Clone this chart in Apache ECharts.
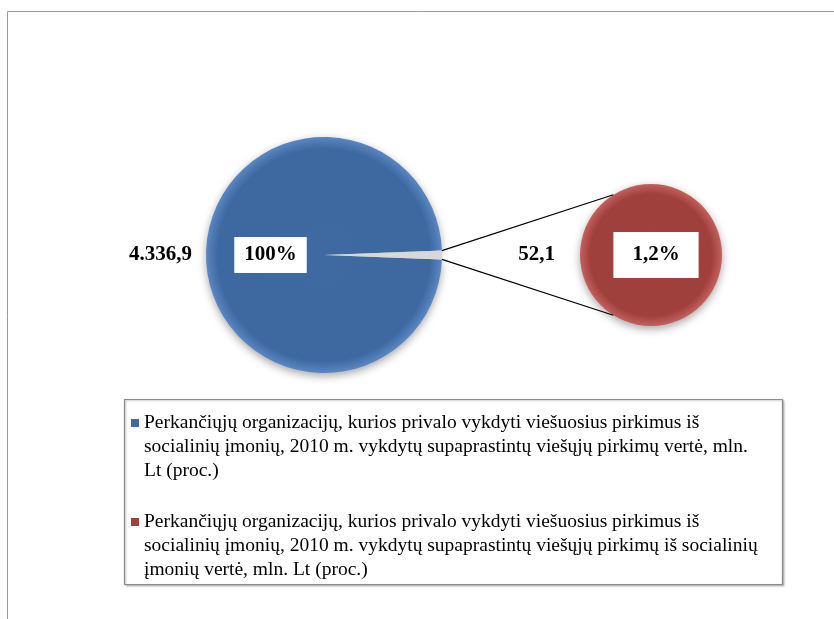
<!DOCTYPE html>
<html>
<head>
<meta charset="utf-8">
<script src="https://cdn.jsdelivr.net/npm/echarts@6/dist/echarts.min.js"></script>
<style>html,body{margin:0;padding:0;background:#fff;}#c{width:834px;height:619px;}</style>
</head>
<body>
<div id="c"></div>
<script>
const categories = [
  'Perkančiųjų organizacijų, kurios privalo vykdyti viešuosius pirkimus iš\nsocialinių įmonių, 2010 m. vykdytų supaprastintų viešųjų pirkimų vertė, mln.\nLt (proc.)',
  'Perkančiųjų organizacijų, kurios privalo vykdyti viešuosius pirkimus iš\nsocialinių įmonių, 2010 m. vykdytų supaprastintų viešųjų pirkimų iš socialinių\nįmonių vertė, mln. Lt (proc.)'
];
const values = [4336.9, 52.1];
const valueLabels = ['4.336,9', '52,1'];
const percentLabels = ['100%', '1,2%'];

const BLUE = '#3e69a1', RED = '#a1403d', GREY = '#d8d8d8';
const FONT = 'Liberation Serif';
const LEGEND_FS = 19.5;
const bigCenter = [324, 255], bigR = 118;
const smallCenter = [651, 255], smallR = 71;
const total = values[0] + values[1];
const bigStart = -360 * values[1] / total / 2;

// pad with empty lines on top so the legend icon sits beside the first text line
function legendText(name) {
  const n = name.split('\n').length;
  return '\n'.repeat(n - 1) + name;
}

const chart = echarts.init(document.getElementById('c'), null, {renderer: 'canvas'});

const boxLabel = (pad) => ({
  fontFamily: FONT, fontWeight: 'bold', fontSize: 21, color: '#000',
  backgroundColor: '#fff', padding: pad
});
const plainLabel = {fontFamily: FONT, fontWeight: 'bold', fontSize: 21, color: '#000'};
const clear = {color: 'rgba(0,0,0,0)'};

const blueFill = {type: 'radial', x: 0.5, y: 0.5, r: 0.5, colorStops: [
  {offset: 0, color: '#3e69a1'}, {offset: 0.9, color: '#3d68a0'}, {offset: 1, color: '#5a87c2'}]};
const redFill = {type: 'radial', x: 0.5, y: 0.5, r: 0.5, colorStops: [
  {offset: 0, color: '#a1403d'}, {offset: 0.86, color: '#a0403c'}, {offset: 1, color: '#c4605b'}]};
const shadow = {shadowBlur: 8, shadowColor: 'rgba(0,0,0,0.35)', shadowOffsetY: 3};

const option = {
  backgroundColor: '#fff',
  animation: false,
  legend: {
    orient: 'vertical', left: 131, top: 363, padding: 0, itemGap: -21,
    itemWidth: 8, itemHeight: 8, icon: 'rect',
    formatter: legendText,
    data: [
      {name: categories[0], itemStyle: {color: BLUE}},
      {name: categories[1], itemStyle: {color: RED}}
    ],
    textStyle: {fontFamily: FONT, fontSize: LEGEND_FS, color: '#000', lineHeight: 24}
  },
  series: [
    // primary pie (visual)
    {
      type: 'pie', center: bigCenter, radius: bigR, startAngle: bigStart, clockwise: true,
      avoidLabelOverlap: false, silent: true,
      label: {show: false}, labelLine: {show: false},
      data: [
        {name: categories[0], value: values[0], itemStyle: Object.assign({color: blueFill}, shadow)},
        {name: categories[1], value: values[1], itemStyle: {color: GREY}}
      ]
    },
    // primary pie: value label outside
    {
      type: 'pie', center: bigCenter, radius: bigR, startAngle: bigStart, clockwise: true,
      avoidLabelOverlap: false, silent: true, legendHoverLink: false, itemStyle: clear,
      labelLine: {show: false, length: 4, length2: 5},
      label: Object.assign({show: false, position: 'outside', distanceToLabelLine: 5}, plainLabel),
      data: [
        {name: categories[0], value: values[0], label: {show: true, formatter: valueLabels[0]}},
        {name: categories[1], value: values[1]}
      ]
    },
    // primary pie: percent label inside
    {
      type: 'pie', center: bigCenter, radius: 101, startAngle: bigStart, clockwise: true,
      avoidLabelOverlap: false, silent: true, legendHoverLink: false, itemStyle: clear,
      labelLine: {show: false},
      label: Object.assign({show: false, position: 'inside'}, boxLabel([8, 10, 7, 10])),
      data: [
        {name: categories[0], value: values[0], label: {show: true, formatter: percentLabels[0]}},
        {name: categories[1], value: values[1]}
      ]
    },
    // secondary pie (visual)
    {
      type: 'pie', center: smallCenter, radius: smallR, startAngle: 0,
      avoidLabelOverlap: false, silent: true,
      label: {show: false}, labelLine: {show: false},
      data: [{name: categories[1], value: values[1], itemStyle: Object.assign({color: redFill}, shadow)}]
    },
    // secondary pie: percent label
    {
      type: 'pie', center: smallCenter, radius: 4, startAngle: 180,
      avoidLabelOverlap: false, silent: true, legendHoverLink: false, itemStyle: clear,
      labelLine: {show: false},
      label: Object.assign({show: true, position: 'inside', formatter: percentLabels[1]}, boxLabel([13, 19, 12, 19])),
      data: [{name: categories[1], value: values[1]}]
    },
    // secondary pie: value label outside
    {
      type: 'pie', center: smallCenter, radius: smallR, startAngle: 0,
      avoidLabelOverlap: false, silent: true, legendHoverLink: false, itemStyle: clear,
      labelLine: {show: false, length: 10, length2: 10},
      label: Object.assign({show: true, position: 'outside', distanceToLabelLine: 5, formatter: valueLabels[1]}, plainLabel),
      data: [{name: categories[1], value: values[1]}]
    }
  ]
};
chart.setOption(option);

// frame, legend box and connector lines from the "other" slice to the secondary pie
function decorations() {
  let lay = null;
  try { lay = chart.getModel().getSeriesByIndex(0).getData().getItemLayout(1); } catch (e) {}
  let cx = bigCenter[0], cy = bigCenter[1], r = bigR, a0, a1;
  if (lay) { cx = lay.cx; cy = lay.cy; r = lay.r; a0 = lay.startAngle; a1 = lay.endAngle; }
  else { a0 = bigStart * Math.PI / 180; a1 = -bigStart * Math.PI / 180; }
  const p0 = [cx + r * Math.cos(a0), cy + r * Math.sin(a0)];
  const p1 = [cx + r * Math.cos(a1), cy + r * Math.sin(a1)];
  const top = p0[1] < p1[1] ? p0 : p1, bot = p0[1] < p1[1] ? p1 : p0;
  const t = 122 * Math.PI / 180;
  const q0 = [smallCenter[0] + smallR * Math.cos(t), smallCenter[1] - smallR * Math.sin(t)];
  const q1 = [smallCenter[0] + smallR * Math.cos(t), smallCenter[1] + smallR * Math.sin(t)];
  return [
    {type: 'rect', z: -10, silent: true, shape: {x: 7.5, y: 11.5, width: 900, height: 700},
      style: {fill: 'none', stroke: '#9b9b9b', lineWidth: 1}},
    {type: 'rect', z: -9, silent: true, shape: {x: 124.5, y: 399.5, width: 658, height: 185},
      style: {fill: '#fff', stroke: '#8c8c8c', lineWidth: 1.2, shadowBlur: 2, shadowColor: 'rgba(0,0,0,0.25)', shadowOffsetX: 1, shadowOffsetY: 1}},
    {type: 'line', z: 10, silent: true, shape: {x1: top[0], y1: top[1], x2: q0[0], y2: q0[1]}, style: {stroke: '#000', lineWidth: 1.2}},
    {type: 'line', z: 10, silent: true, shape: {x1: bot[0], y1: bot[1], x2: q1[0], y2: q1[1]}, style: {stroke: '#000', lineWidth: 1.2}}
  ];
}
chart.setOption({graphic: {elements: decorations()}});
</script>
</body>
</html>
